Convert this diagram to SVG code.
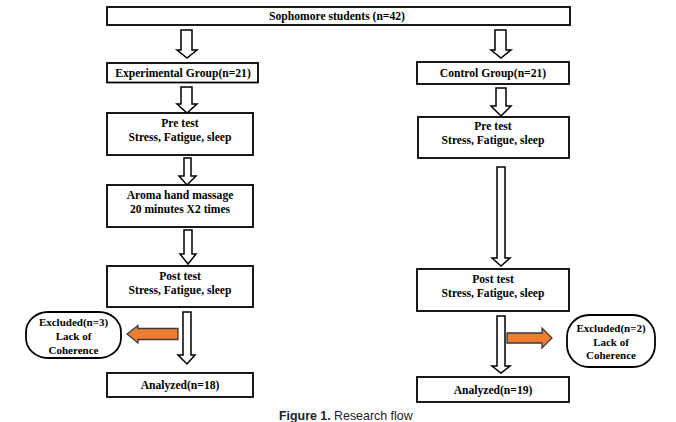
<svg xmlns="http://www.w3.org/2000/svg" width="676" height="422" viewBox="0 0 676 422">
<style>
.box{fill:#fff;stroke:#000;stroke-width:1.8}
.ex{fill:#fff;stroke:#000;stroke-width:1.8}
.arr{fill:#fff;stroke:#000;stroke-width:1.5;stroke-linejoin:miter}
.org{fill:#ED7D31;stroke:#3a3a3a;stroke-width:1.3}
text{font-family:"Liberation Serif","Times New Roman",serif;font-weight:bold;font-size:11.6px;fill:#000;text-anchor:middle}
.exl{font-size:11px}
.cap{font-family:"Liberation Sans",Arial,sans-serif;font-weight:normal;font-size:12.4px;fill:#222}
</style>
<rect width="676" height="422" fill="#fff"/>
<g id="connectors">
<path class="arr" d="M181,30 H192 V50 H197 L187,58 L177,50 H181 Z"/>
<path class="arr" d="M495,30 H506 V50 H511 L501,58 L491,50 H495 Z"/>
<path class="arr" d="M181,87 H192 V104 H197 L187,113 L177,104 H181 Z"/>
<path class="arr" d="M496,88 H506 V106 H511 L501,116 L491,106 H496 Z"/>
<path class="arr" d="M184,158 H191 V176 H196 L187,185 L179,176 H184 Z"/>
<path class="arr" d="M184,230 H192 V254 H196 L188,264 L180,254 H184 Z"/>
<path class="arr" d="M497,167 H505 V258 H510 L501,266 L492,258 H497 Z"/>
<path class="arr" d="M183,312 H191 V355 H195 L187,364 L178,355 H183 Z"/>
<path class="arr" d="M497,316 H505 V366 H510 L501,373 L492,366 H497 Z"/>
<path class="org" d="M178,328.5 V339.5 H138 V343 L127,334 L138,325.5 V328.5 Z"/>
<path class="org" d="M507,333 H542 V328 L552,338 L542,348 V343 H507 Z"/>
</g>
<g id="sophomore"><rect class="box" x="107" y="7" width="463" height="18"/><text x="337" y="19.8">Sophomore students (n=42)</text></g>
<g id="exp-group"><rect class="box" x="107" y="63" width="151" height="19.5"/><text x="183" y="77">Experimental Group(n=21)</text></g>
<g id="ctrl-group"><rect class="box" x="417" y="62" width="152" height="22"/><text x="493" y="76.5">Control Group(n=21)</text></g>
<g id="exp-pre"><rect class="box" x="107" y="113" width="146" height="42"/><text x="180" y="127">Pre test</text><text x="180" y="141">Stress, Fatigue, sleep</text></g>
<g id="ctrl-pre"><rect class="box" x="418" y="117" width="151" height="41"/><text x="493" y="130">Pre test</text><text x="493" y="144">Stress, Fatigue, sleep</text></g>
<g id="aroma"><rect class="box" x="107" y="185" width="146" height="42"/><text x="180" y="199">Aroma hand massage</text><text x="180" y="213">20 minutes X2 times</text></g>
<g id="exp-post"><rect class="box" x="107" y="266" width="146" height="41"/><text x="180" y="280">Post test</text><text x="180" y="294">Stress, Fatigue, sleep</text></g>
<g id="ctrl-post"><rect class="box" x="417" y="269" width="152" height="42"/><text x="493" y="283">Post test</text><text x="493" y="297">Stress, Fatigue, sleep</text></g>
<g id="exp-excluded"><rect class="ex" x="26" y="312" width="95" height="46" rx="22" ry="20"/><text class="exl" x="73.5" y="326">Excluded(n=3)</text><text class="exl" x="73.5" y="340">Lack of</text><text class="exl" x="73.5" y="354">Coherence</text></g>
<g id="ctrl-excluded"><rect class="ex" x="567" y="315" width="88" height="52" rx="22" ry="22"/><text class="exl" x="611" y="332">Excluded(n=2)</text><text class="exl" x="611" y="346">Lack of</text><text class="exl" x="611" y="359">Coherence</text></g>
<g id="exp-analyzed"><rect class="box" x="107" y="373" width="146" height="24"/><text x="180" y="388.5">Analyzed(n=18)</text></g>
<g id="ctrl-analyzed"><rect class="box" x="417" y="377" width="152" height="25"/><text x="493" y="393.5">Analyzed(n=19)</text></g>
<text class="cap" x="279" y="420" style="text-anchor:start"><tspan font-weight="bold">Figure 1.</tspan> Research flow</text>
</svg>
